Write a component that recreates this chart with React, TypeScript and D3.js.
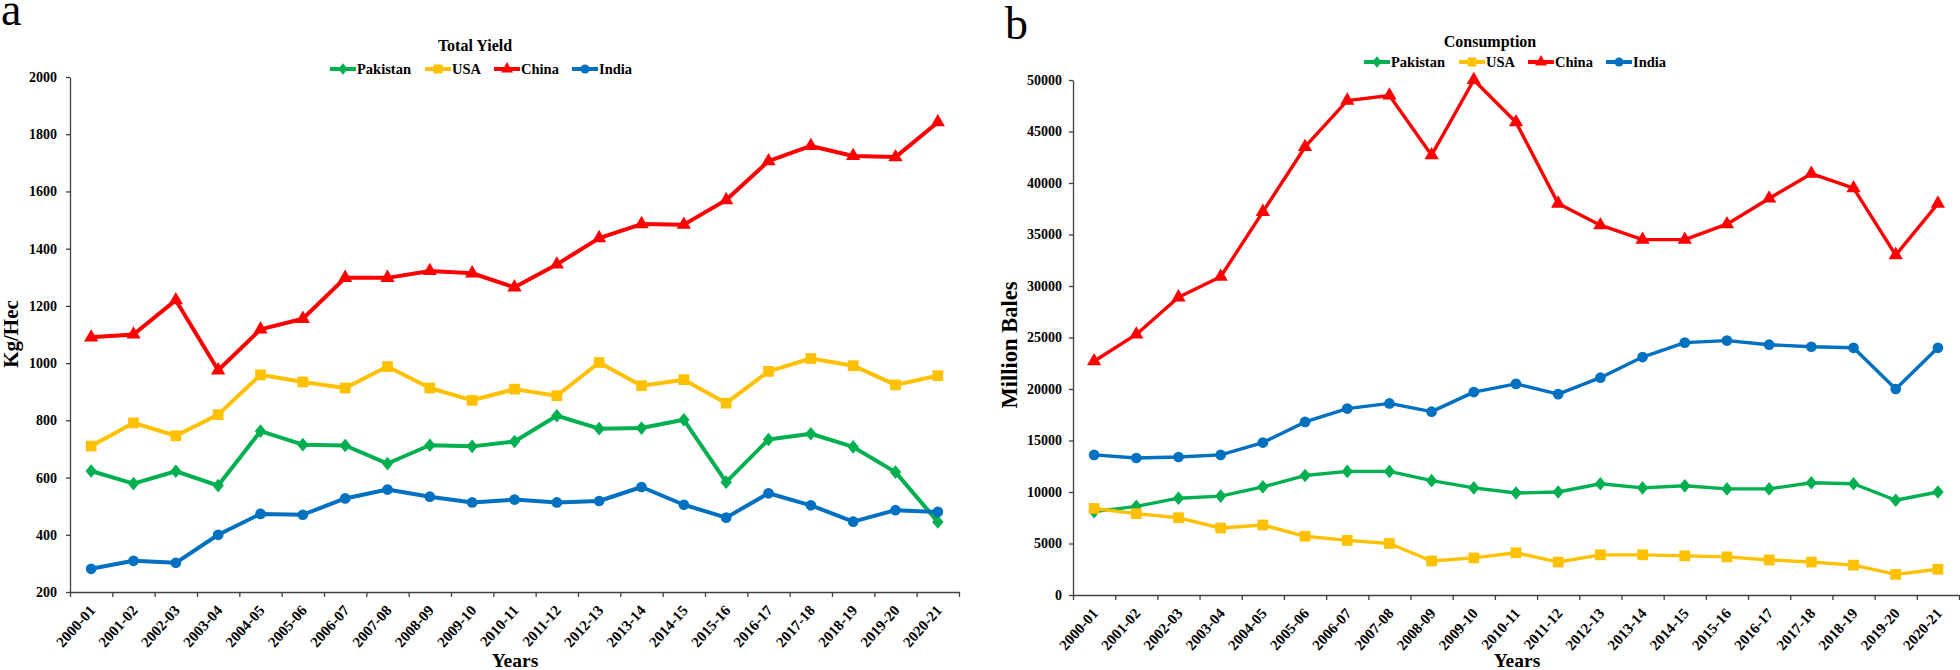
import React, { useEffect, useRef } from "react";
import * as d3 from "d3";

const years = [
  "2000-01", "2001-02", "2002-03", "2003-04", "2004-05", "2005-06", "2006-07",
  "2007-08", "2008-09", "2009-10", "2010-11", "2011-12", "2012-13", "2013-14",
  "2014-15", "2015-16", "2016-17", "2017-18", "2018-19", "2019-20", "2020-21",
];

const seriesNames = ["Pakistan", "USA", "China", "India"];
const seriesColors = ["#00B050", "#FFC000", "#FF0000", "#0070C0"];

// Total Yield (Kg/Hec)
const yieldPakistan = [623, 579, 622, 572, 762, 715, 712, 649, 713, 709, 726, 816, 771, 773, 802, 584, 733, 753, 707, 619, 445];
const yieldUSA = [710, 791, 746, 820, 959, 934, 913, 988, 913, 870, 909, 886, 1002, 921, 942, 860, 971, 1016, 991, 924, 956];
const yieldChina = [1090, 1100, 1220, 975, 1118, 1155, 1298, 1298, 1322, 1314, 1265, 1345, 1437, 1486, 1484, 1570, 1706, 1759, 1724, 1720, 1842];
const yieldIndia = [281, 309, 302, 400, 473, 470, 527, 558, 533, 513, 523, 513, 518, 567, 505, 460, 545, 503, 446, 486, 480];
const yieldTicks = [200, 400, 600, 800, 1000, 1200, 1400, 1600, 1800, 2000];

// Consumption (Million Bales)
const consPakistan = [8100, 8600, 9400, 9600, 10500, 11600, 12000, 12000, 11100, 10400, 9900, 10000, 10800, 10400, 10600, 10300, 10300, 10900, 10800, 9200, 10000];
const consUSA = [8400, 7900, 7500, 6500, 6800, 5700, 5300, 5000, 3300, 3600, 4100, 3200, 3900, 3900, 3800, 3700, 3400, 3200, 2900, 2000, 2500];
const consChina = [22700, 25300, 28900, 30900, 37200, 43500, 48000, 48500, 42700, 50000, 45900, 38000, 35900, 34500, 34500, 36000, 38500, 40900, 39500, 33000, 38000];
const consIndia = [13600, 13300, 13400, 13600, 14800, 16800, 18100, 18600, 17800, 19700, 20500, 19500, 21100, 23100, 24500, 24700, 24300, 24100, 24000, 20000, 24000];
const consTicks = [0, 5000, 10000, 15000, 20000, 25000, 30000, 35000, 40000, 45000, 50000];

const FONT = "'Times New Roman', 'Liberation Serif', serif";

const diamondTall = {
  draw(ctx: any, size: number) {
    const w = Math.sqrt(size / 0.6);
    const h = w * 1.2;
    ctx.moveTo(0, -h / 2);
    ctx.lineTo(w / 2, 0);
    ctx.lineTo(0, h / 2);
    ctx.lineTo(-w / 2, 0);
    ctx.closePath();
  },
};

const symbolTypes: any[] = [diamondTall, d3.symbolSquare, d3.symbolTriangle, d3.symbolCircle];
const symbolSizes = [78, 115, 88, 90];

type PanelProps = {
  x0: number; x1: number; yTop: number; yBot: number;
  domain: [number, number]; ticks: number[];
  data: number[][];
  lineWidth: number;
  title: string; titleX: number; titleY: number;
  legendX: number; legendY: number;
  ylabel: string; ylabelX: number; ylabelY: number; ylabelSize: number;
  yearsX: number;
  tickPad: number;
  letter: string; letterX: number; letterY: number;
};

function Panel(p: PanelProps) {
  const axRef = useRef<SVGGElement>(null);
  const xBand = d3.scaleBand<string>().domain(years).range([p.x0, p.x1]).padding(0);
  const y = d3.scaleLinear().domain(p.domain).range([p.yBot, p.yTop]);
  const cx = (d: string) => (xBand(d) as number) + xBand.bandwidth() / 2;

  useEffect(() => {
    const g = d3.select(axRef.current);
    g.selectAll("*").remove();
    const yAxis = d3.axisLeft(y).tickValues(p.ticks).tickSize(4).tickSizeOuter(0).tickPadding(p.tickPad)
      .tickFormat((d: any) => String(d));
    const ya = g.append("g").attr("transform", `translate(${p.x0},0)`).call(yAxis as any);
    ya.attr("font-family", FONT).attr("font-size", 14).attr("font-weight", "bold");
    ya.selectAll("text").attr("fill", "#000");
    ya.selectAll("path,line").attr("stroke", "#404040").attr("stroke-width", 1.3);

    const xLin = d3.scaleLinear().domain([0, years.length]).range([p.x0, p.x1]);
    const xAxis = d3.axisBottom(xLin).tickValues(d3.range(years.length + 1)).tickSize(5).tickSizeOuter(0)
      .tickFormat(() => "");
    const xa = g.append("g").attr("transform", `translate(0,${p.yBot})`).call(xAxis as any);
    xa.selectAll("path,line").attr("stroke", "#404040").attr("stroke-width", 1.3);

    g.append("g")
      .selectAll("text")
      .data(years)
      .join("text")
      .attr("transform", (d) => `translate(${cx(d) + 5},${p.yBot + 19}) rotate(-48)`)
      .attr("text-anchor", "end")
      .attr("font-family", FONT)
      .attr("font-size", 15)
      .attr("font-weight", "bold")
      .attr("fill", "#000")
      .text((d) => d);
  }, []);

  const line = d3.line<number>()
    .x((_, i) => cx(years[i]))
    .y((v) => y(v));

  const legendOffsets = [0, 95, 164, 242];

  return (
    <g>
      <text x={p.letterX} y={p.letterY} fontFamily={FONT} fontSize={46} fill="#000">{p.letter}</text>
      <text x={p.titleX} y={p.titleY} textAnchor="middle" fontFamily={FONT} fontSize={16} fontWeight="bold" fill="#000">{p.title}</text>
      {seriesNames.map((name, i) => {
        const lx = p.legendX + legendOffsets[i];
        const sym = d3.symbol().type(symbolTypes[i]).size(symbolSizes[i] * 0.7)();
        return (
          <g key={name}>
            <line x1={lx} x2={lx + 26} y1={p.legendY} y2={p.legendY} stroke={seriesColors[i]} strokeWidth={4} />
            <path d={sym as string} transform={`translate(${lx + 13},${p.legendY})`} fill={seriesColors[i]} />
            <text x={lx + 27} y={p.legendY + 4.5} fontFamily={FONT} fontSize={14.5} fontWeight="bold" fill="#000">{name}</text>
          </g>
        );
      })}
      <text transform={`translate(${p.ylabelX},${p.ylabelY}) rotate(-90)`} textAnchor="middle" fontFamily={FONT}
        fontSize={p.ylabelSize} fontWeight="bold" fill="#000">{p.ylabel}</text>
      <text x={p.yearsX} y={667} textAnchor="middle" fontFamily={FONT} fontSize={19.5} fontWeight="bold" fill="#000">Years</text>
      <g ref={axRef} />
      {p.data.map((vals, si) => (
        <g key={seriesNames[si]}>
          <path d={line(vals) as string} fill="none" stroke={seriesColors[si]} strokeWidth={p.lineWidth}
            strokeLinejoin="round" strokeLinecap="round" />
          {vals.map((v, i) => (
            <path key={i} d={d3.symbol().type(symbolTypes[si]).size(symbolSizes[si])() as string}
              transform={`translate(${cx(years[i])},${y(v)})`} fill={seriesColors[si]} />
          ))}
        </g>
      ))}
    </g>
  );
}

export default function App() {
  return (
    <svg width={1960} height={670} style={{ position: "absolute", left: 0, top: 0, background: "#fff" }}>
      <rect x={0} y={0} width={1960} height={670} fill="#fff" />
      <Panel
        x0={70} x1={959} yTop={77} yBot={592}
        domain={[200, 2000]} ticks={yieldTicks}
        data={[yieldPakistan, yieldUSA, yieldChina, yieldIndia]}
        lineWidth={4}
        title="Total Yield" titleX={475} titleY={51}
        legendX={330} legendY={69}
        ylabel="Kg/Hec" ylabelX={18} ylabelY={334} ylabelSize={21}
        yearsX={515}
        tickPad={9}
        letter="a" letterX={1} letterY={25}
      />
      <Panel
        x0={1073} x1={1959} yTop={80} yBot={595}
        domain={[0, 50000]} ticks={consTicks}
        data={[consPakistan, consUSA, consChina, consIndia]}
        lineWidth={3.4}
        title="Consumption" titleX={1490} titleY={47}
        legendX={1364} legendY={62}
        ylabel="Million Bales" ylabelX={1017} ylabelY={345} ylabelSize={22.5}
        yearsX={1517}
        tickPad={7}
        letter="b" letterX={1005} letterY={39}
      />
    </svg>
  );
}
